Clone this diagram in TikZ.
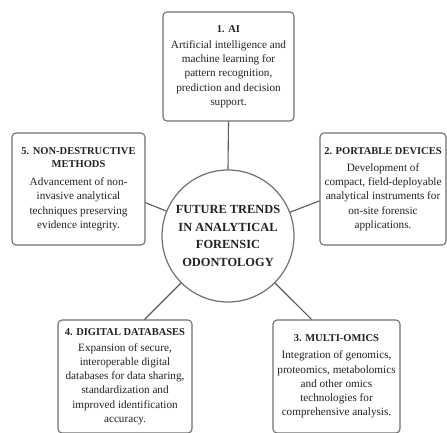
\documentclass[tikz,border=0pt]{standalone}
\usepackage{fontspec}
\setmainfont{Liberation Serif}
\usepackage{tikz}
\definecolor{rimgray}{HTML}{707070}
\definecolor{inkgray}{HTML}{222222}
\newcommand{\trendhead}[1]{{\fontsize{10.5}{13.5}\selectfont\bfseries #1}}
\tikzset{
	trendbox/.style={draw=rimgray, line width=1.1pt, rounded corners=4pt, fill=white,
		align=center, inner sep=2pt, text=inkgray,
		font=\fontsize{11.2}{14.2}\selectfont},
	hubnode/.style={circle, draw=rimgray, line width=1.2pt, align=center, inner sep=0pt,
		minimum size=132pt, text=inkgray, font=\fontsize{12.4}{17.5}\selectfont\bfseries},
	spoke/.style={draw=black!65, line width=1.1pt}
}

\begin{document}
\begin{tikzpicture}[x=1pt, y=1pt]
			%%%%% START %%%%%
			\useasboundingbox (0, 0) rectangle (447, 432);
			
			\node[hubnode] (hub) at (228, 196) {FUTURE TRENDS\\IN ANALYTICAL\\FORENSIC\\ODONTOLOGY};
			
			\node[trendbox, minimum width=131pt, minimum height=109pt] (ai) at (228.5, 365.5)
				{\trendhead{1. AI}\\[2pt]Artificial intelligence and\\machine learning for\\pattern recognition,\\prediction and decision\\support.};
			\node[trendbox, minimum width=126pt, minimum height=112pt] (portable) at (383, 243)
				{\trendhead{2. PORTABLE DEVICES}\\[3pt]Development of\\compact, field-deployable\\analytical instruments for\\on-site forensic\\applications.};
			\node[trendbox, minimum width=127pt, minimum height=113pt] (omics) at (336.5, 55.5)
				{\trendhead{3. MULTI-OMICS}\\[3pt]Integration of genomics,\\proteomics, metabolomics\\and other omics\\technologies for\\comprehensive analysis.};
			\node[trendbox, minimum width=134pt, minimum height=113pt] (databases) at (125, 55.5)
				{\trendhead{4. DIGITAL DATABASES}\\[2pt]Expansion of secure,\\interoperable digital\\databases for data sharing,\\standardization and\\improved identification\\accuracy.};
			\node[trendbox, minimum width=133pt, minimum height=112pt] (nondestr) at (78.5, 243)
				{\trendhead{5. NON-DESTRUCTIVE}\\[-1pt]\trendhead{METHODS}\\[4pt]Advancement of non-\\invasive analytical\\techniques preserving\\evidence integrity.};
			
			\draw[spoke] (hub.90) -- (ai.south);
			\draw[spoke] (hub.21) -- (intersection of hub.center--hub.21 and portable.north west--portable.south west);
			\draw[spoke] (hub.315) -- (intersection of hub.center--hub.315 and omics.north west--omics.north east);
			\draw[spoke] (hub.225) -- (intersection of hub.center--hub.225 and databases.north west--databases.north east);
			\draw[spoke] (hub.158) -- (intersection of hub.center--hub.158 and nondestr.north east--nondestr.south east);
			
			%%%%% END %%%%%
\end{tikzpicture}
\end{document}
